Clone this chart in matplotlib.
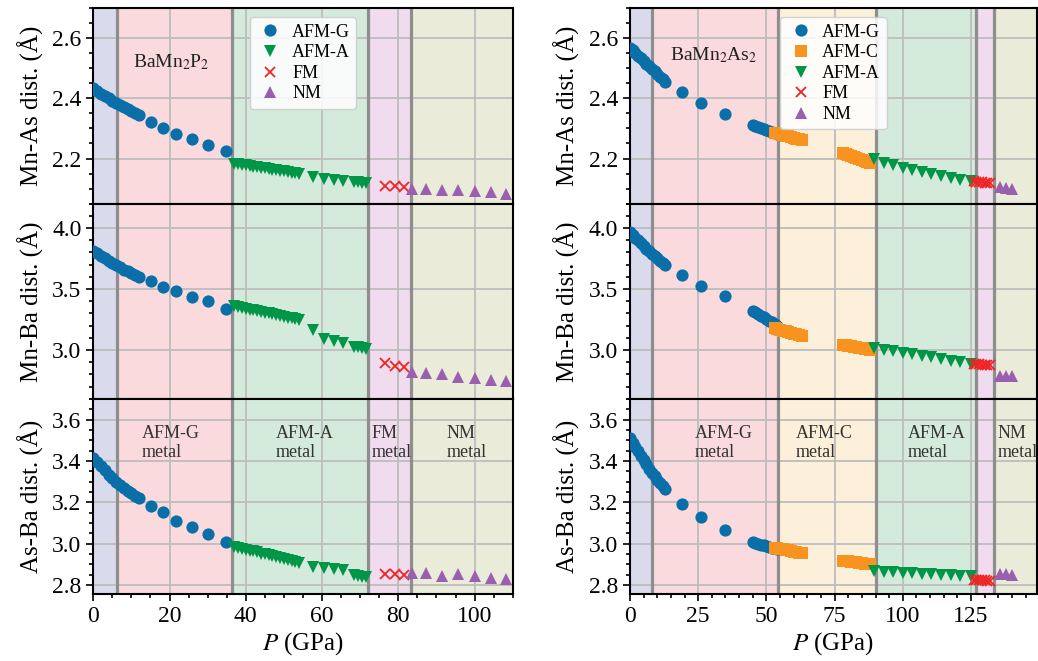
import matplotlib
matplotlib.use("Agg")
import matplotlib.pyplot as plt
from matplotlib.ticker import MultipleLocator

plt.rcParams["font.family"] = ["Liberation Serif", "DejaVu Serif"]
plt.rcParams["mathtext.fontset"] = "stix"

# ---------------- BaMn2P2 (left column) ----------------
p2_g_p = [0, 1, 2, 3, 4, 5, 6, 7, 8, 9, 10, 11, 12, 15.1, 18.3, 21.7, 25.8, 30.2, 34.8]
p2_g_mnx = [2.433, 2.425, 2.416, 2.408, 2.400, 2.392, 2.385, 2.378, 2.371, 2.364, 2.357, 2.350, 2.344,
            2.321, 2.302, 2.282, 2.266, 2.244, 2.224]
p2_g_mnba = [3.815, 3.794, 3.773, 3.753, 3.733, 3.714, 3.695, 3.677, 3.660, 3.644, 3.628, 3.612, 3.598,
             3.568, 3.514, 3.486, 3.432, 3.404, 3.336]
p2_g_xba = [3.415, 3.394, 3.374, 3.354, 3.334, 3.315, 3.297, 3.283, 3.269, 3.256, 3.244, 3.232, 3.221,
            3.183, 3.152, 3.111, 3.079, 3.045, 3.009]

p2_a_p = [37, 38, 39, 40, 41, 42, 43, 44, 45, 46, 47, 48, 49, 50, 51, 52, 53, 54,
          57.5, 60.5, 63, 65.5, 68.5, 69.5, 70.5, 71.5]
p2_a_mnx = [2.183, 2.181, 2.179, 2.177, 2.175, 2.173, 2.171, 2.169, 2.167, 2.165, 2.163, 2.161, 2.159,
            2.157, 2.155, 2.153, 2.151, 2.149, 2.138, 2.133, 2.129, 2.126, 2.123, 2.121, 2.119, 2.117]
p2_a_mnba = [3.358, 3.352, 3.345, 3.339, 3.332, 3.326, 3.319, 3.313, 3.306, 3.300, 3.293, 3.287, 3.280,
             3.273, 3.266, 3.259, 3.251, 3.243, 3.166, 3.087, 3.072, 3.062, 3.028, 3.022, 3.016, 3.010]
p2_a_xba = [2.985, 2.980, 2.976, 2.971, 2.966, 2.962, 2.957, 2.952, 2.948, 2.943, 2.938, 2.934, 2.929,
            2.924, 2.920, 2.915, 2.910, 2.906, 2.888, 2.883, 2.879, 2.874, 2.846, 2.843, 2.840, 2.837]

p2_f_p = [76.4, 79.0, 81.4]
p2_f_mnx = [2.110, 2.107, 2.104]
p2_f_mnba = [2.893, 2.871, 2.858]
p2_f_xba = [2.852, 2.851, 2.850]

p2_n_p = [83.7, 87.2, 91.4, 95.6, 100.0, 104.4, 108.2]
p2_n_mnx = [2.099, 2.097, 2.094, 2.094, 2.091, 2.088, 2.082]
p2_n_mnba = [2.817, 2.811, 2.803, 2.776, 2.768, 2.757, 2.748]
p2_n_xba = [2.856, 2.859, 2.844, 2.851, 2.843, 2.834, 2.827]

# ---------------- BaMn2As2 (right column) ----------------
as_g_p = [0, 1, 2, 3, 4, 5, 6, 7, 8, 9, 10, 11, 12, 13, 19.0, 26.0, 34.7,
          45, 46, 47, 48, 49, 50, 51, 52, 53, 54]
as_g_mnx = [2.569, 2.560, 2.551, 2.542, 2.534, 2.525, 2.516, 2.508, 2.499, 2.490, 2.481, 2.472, 2.463, 2.454,
            2.422, 2.386, 2.349,
            2.313, 2.309, 2.306, 2.302, 2.298, 2.294, 2.291, 2.287, 2.284, 2.280]
as_g_mnba = [3.965, 3.942, 3.920, 3.898, 3.876, 3.854, 3.831, 3.809, 3.787, 3.769, 3.751, 3.733, 3.716, 3.699,
             3.615, 3.527, 3.440,
             3.322, 3.308, 3.295, 3.281, 3.267, 3.254, 3.240, 3.226, 3.213, 3.199]
as_g_xba = [3.511, 3.489, 3.468, 3.447, 3.426, 3.405, 3.383, 3.362, 3.341, 3.325, 3.309, 3.293, 3.278, 3.262,
            3.192, 3.128, 3.066,
            3.006, 3.002, 2.999, 2.995, 2.991, 2.988, 2.984, 2.981, 2.977, 2.974]

as_c_p = [53, 54, 55, 56, 57, 58, 59, 60, 61, 62, 63,
          78, 79, 80, 81, 82, 83, 84, 85, 86, 87, 88]
as_c_mnx = [2.286, 2.284, 2.281, 2.279, 2.276, 2.274, 2.271, 2.269, 2.266, 2.264, 2.261,
            2.217, 2.214, 2.211, 2.208, 2.205, 2.202, 2.199, 2.196, 2.192, 2.189, 2.186]
as_c_mnba = [3.180, 3.173, 3.167, 3.160, 3.154, 3.147, 3.141, 3.134, 3.128, 3.121, 3.115,
             3.044, 3.040, 3.036, 3.032, 3.028, 3.024, 3.019, 3.015, 3.011, 3.007, 3.003]
as_c_xba = [2.980, 2.977, 2.975, 2.972, 2.969, 2.967, 2.964, 2.961, 2.958, 2.956, 2.953,
            2.917, 2.915, 2.914, 2.912, 2.910, 2.909, 2.907, 2.905, 2.903, 2.902, 2.900]

as_a_p = [89.5, 93, 96.5, 100, 103.5, 107, 110.5, 114, 117.5, 121, 125]
as_a_mnx = [2.197, 2.186, 2.178, 2.169, 2.163, 2.154, 2.150, 2.143, 2.136, 2.130, 2.124]
as_a_mnba = [3.016, 3.004, 2.991, 2.979, 2.966, 2.953, 2.940, 2.927, 2.914, 2.901, 2.888]
as_a_xba = [2.867, 2.864, 2.861, 2.859, 2.856, 2.853, 2.855, 2.849, 2.846, 2.844, 2.841]

as_f_p = [126, 127, 128, 129, 130, 131, 132]
as_f_mnx = [2.124, 2.123, 2.122, 2.121, 2.120, 2.119, 2.118]
as_f_mnba = [2.886, 2.884, 2.883, 2.881, 2.879, 2.877, 2.875]
as_f_xba = [2.824, 2.823, 2.823, 2.822, 2.822, 2.821, 2.821]

as_n_p = [135.5, 137.8, 140.1]
as_n_mnx = [2.104, 2.102, 2.100]
as_n_mnba = [2.790, 2.788, 2.786]
as_n_xba = [2.852, 2.851, 2.850]

# phase boundaries and region labels
p2_bounds = [6.3, 36.5, 72.1, 83.4]
p2_regions = ["#d9dbed", "#fadadd", "#d4eadb", "#f0dcee", "#ebebd9"]
p2_labels = [(12.6, "AFM-G\nmetal"), (47.8, "AFM-A\nmetal"), (73.0, "FM\nmetal"), (92.6, "NM\nmetal")]

as_bounds = [8.2, 54.4, 90.0, 127.0, 133.4]
as_regions = ["#d9dbed", "#fadadd", "#fdf0da", "#d4eadb", "#f0dcee", "#ebebd9"]
as_labels = [(23.6, "AFM-G\nmetal"), (60.8, "AFM-C\nmetal"), (101.8, "AFM-A\nmetal"), (134.6, "NM\nmetal")]

styles = {
    "AFM-G": dict(marker="o", color="#0a6fa8", ms=8.8),
    "AFM-C": dict(marker="s", color="#f7931e", ms=8.2),
    "AFM-A": dict(marker="v", color="#009647", ms=9.0),
    "FM": dict(marker="x", color="#ee2424", ms=7.5, mew=1.3),
    "NM": dict(marker="^", color="#9b5fb0", ms=9.0),
}

ylabels = ["Mn-As dist. (Å)", "Mn-Ba dist. (Å)", "As-Ba dist. (Å)"]
ylims = [(2.05, 2.70), (2.6, 4.2), (2.755, 3.70)]
ymajor = [0.2, 0.5, 0.2]
yminor = [0.05, 0.1, 0.05]

W, H = 1038, 661
fig = plt.figure(figsize=(W / 100, H / 100), dpi=100)
row_bottom = [0.692, 0.3965, 0.101]
row_h = 0.2955


def draw_column(x0, width, xmax, xmajor, phases, bounds, regions, labels, name, name_pos):
    axes = []
    edges = [0] + bounds + [xmax]
    for row in range(3):
        ax = fig.add_axes([x0, row_bottom[row], width, row_h])
        for i, c in enumerate(regions):
            ax.axvspan(edges[i], edges[i + 1], color=c, lw=0, zorder=0)
        for b in bounds:
            ax.axvline(b, color="#8e8e8e", lw=2.3, zorder=1.5)
        for label, p, vals in phases:
            st = styles[label]
            ax.plot(p, vals[row], ls="none", marker=st["marker"], color=st["color"],
                    ms=st["ms"], mew=st.get("mew", 0), label=label, zorder=3)
        ax.set_xlim(0, xmax)
        ax.set_ylim(*ylims[row])
        ax.set_axisbelow(True)
        ax.grid(True, which="major", color="#bdbdbd", lw=1.3)
        ax.xaxis.set_major_locator(MultipleLocator(xmajor))
        ax.xaxis.set_minor_locator(MultipleLocator(5))
        ax.yaxis.set_major_locator(MultipleLocator(ymajor[row]))
        ax.yaxis.set_minor_locator(MultipleLocator(yminor[row]))
        ax.tick_params(which="both", direction="out", labelsize=17, width=1.2)
        ax.tick_params(which="major", length=5)
        ax.tick_params(which="minor", length=3)
        if row < 2:
            ax.tick_params(axis="x", which="both", bottom=False, labelbottom=False)
        for sp in ax.spines.values():
            sp.set_linewidth(1.5)
        ax.set_ylabel(ylabels[row], fontsize=18, labelpad=6)
        axes.append(ax)

    axes[0].legend(loc="upper center", fontsize=13, framealpha=0.85, labelspacing=0.2,
                   handletextpad=0.4, borderpad=0.35, handlelength=1.6, edgecolor="#cccccc")
    axes[0].text(name_pos[0], name_pos[1], name, transform=axes[0].transAxes,
                 fontsize=14, va="center", ha="left", color="#222222")
    for xp, txt in labels:
        axes[2].text(xp, 0.775, txt, transform=axes[2].get_xaxis_transform(),
                     fontsize=13, va="center", ha="left", color="#333333", linespacing=1.1)
    axes[2].set_xlabel(r"$P$ (GPa)", fontsize=18, labelpad=2)
    return axes


p2_phases = [
    ("AFM-G", p2_g_p, [p2_g_mnx, p2_g_mnba, p2_g_xba]),
    ("AFM-A", p2_a_p, [p2_a_mnx, p2_a_mnba, p2_a_xba]),
    ("FM", p2_f_p, [p2_f_mnx, p2_f_mnba, p2_f_xba]),
    ("NM", p2_n_p, [p2_n_mnx, p2_n_mnba, p2_n_xba]),
]
as_phases = [
    ("AFM-G", as_g_p, [as_g_mnx, as_g_mnba, as_g_xba]),
    ("AFM-C", as_c_p, [as_c_mnx, as_c_mnba, as_c_xba]),
    ("AFM-A", as_a_p, [as_a_mnx, as_a_mnba, as_a_xba]),
    ("FM", as_f_p, [as_f_mnx, as_f_mnba, as_f_xba]),
    ("NM", as_n_p, [as_n_mnx, as_n_mnba, as_n_xba]),
]

draw_column(93.3 / W, (512.7 - 93.3) / W, 110, 20, p2_phases, p2_bounds, p2_regions,
            p2_labels, r"BaMn$_2$P$_2$", (0.095, 0.725))
draw_column(630 / W, (1036.5 - 630) / W, 149, 25, as_phases, as_bounds, as_regions,
            as_labels, r"BaMn$_2$As$_2$", (0.098, 0.76))

fig.savefig("out.png", dpi=100)
